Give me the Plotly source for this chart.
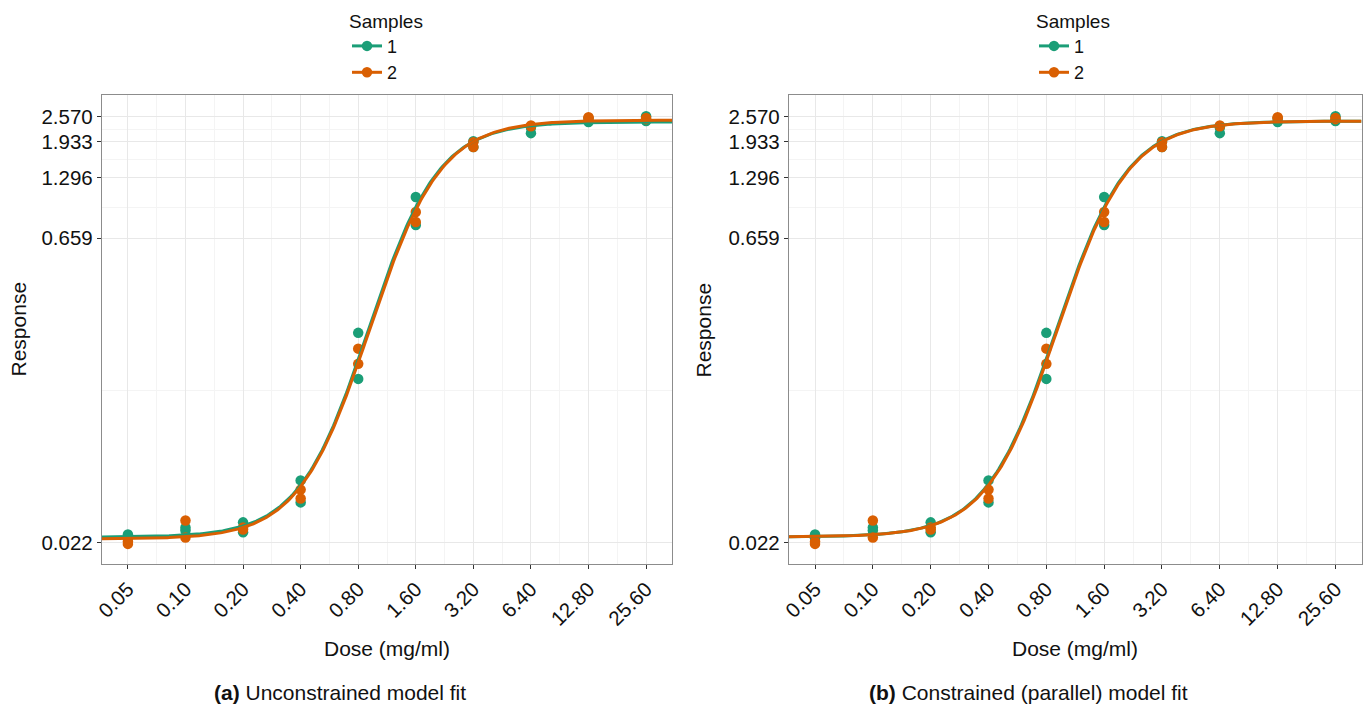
import numpy as np
import plotly.graph_objects as go

# ---------------- data ----------------
doses = [0.05, 0.1, 0.2, 0.4, 0.8, 1.6, 3.2, 6.4, 12.8, 25.6]
dose_labels = ["0.05", "0.10", "0.20", "0.40", "0.80", "1.60", "3.20", "6.40", "12.80", "25.60"]

s1_rep1 = [0.0241, 0.0261, 0.0276, 0.0441, 0.229, 1.044, 1.947, 2.13, 2.41, 2.570]
s1_rep2 = [0.0231, 0.0252, 0.0247, 0.0345, 0.137, 0.764, 1.822, 2.27, 2.50, 2.436]
s2_rep1 = [0.0223, 0.0282, 0.0261, 0.0398, 0.192, 0.883, 1.926, 2.30, 2.546, 2.52]
s2_rep2 = [0.0217, 0.0233, 0.0255, 0.0360, 0.162, 0.790, 1.822, 2.32, 2.52, 2.49]

y_ticks = [0.022, 0.659, 1.296, 1.933, 2.570]
y_minor = [0.1204, 0.924, 1.583, 2.229]

# fitted log-logistic parameters (bottom, top, slope, ec50), fitted on log response
fit_a = {"1": (0.0234, 2.415, 2.38, 0.905), "2": (0.0229, 2.462, 2.34, 0.917)}
fit_b = {"1": (0.02347, 2.436, 2.36, 0.905), "2": (0.02347, 2.436, 2.36, 0.915)}

colors = {"1": "#1B9E77", "2": "#D95F02"}
samples = {"1": (s1_rep1, s1_rep2), "2": (s2_rep1, s2_rep2)}

W, H = 1365, 710
FONT = "Liberation Sans, Arial, Helvetica, sans-serif"

# panel geometry (pixels)
pan_a = (102, 672)
pan_b = (789, 1361.5)
pan_top, pan_bot = 95, 564

# axis ranges with 5% expansion (ggplot style) in log space
lx0, lx1 = np.log10(min(doses)), np.log10(max(doses))
ex = 0.05 * (lx1 - lx0)
xrange_ = [lx0 - ex, lx1 + ex]
ly0, ly1 = np.log10(min(y_ticks)), np.log10(max(y_ticks))
ey = 0.05 * (ly1 - ly0)
yrange_ = [ly0 - ey, ly1 + ey]

x_minor = [np.sqrt(doses[i] * doses[i + 1]) for i in range(len(doses) - 1)]

xc = np.logspace(xrange_[0], xrange_[1], 400)


def curve(p, x):
    b, t, s, e = p
    return np.exp(np.log(b) + (np.log(t) - np.log(b)) / (1 + (e / x) ** s))


fig = go.Figure()

for idx, (fits, leg) in enumerate([(fit_a, "legend"), (fit_b, "legend2")]):
    xa = "x" if idx == 0 else "x2"
    ya = "y" if idx == 0 else "y2"
    for k in ["1", "2"]:
        r1, r2 = samples[k]
        fig.add_trace(go.Scatter(
            x=doses + doses, y=r1 + r2, mode="markers", xaxis=xa, yaxis=ya,
            marker=dict(color=colors[k], size=10.5, line=dict(width=0)),
            showlegend=False, hoverinfo="skip"))
    for k in ["1", "2"]:
        fig.add_trace(go.Scatter(
            x=xc, y=curve(fits[k], xc), mode="lines", xaxis=xa, yaxis=ya,
            line=dict(color=colors[k], width=3), showlegend=False, hoverinfo="skip"))
    for k in ["1", "2"]:
        fig.add_trace(go.Scatter(
            x=[None], y=[None], mode="lines+markers", xaxis=xa, yaxis=ya,
            name=k, legend=leg,
            line=dict(color=colors[k], width=3),
            marker=dict(color=colors[k], size=10.5)))

axis_common = dict(
    type="log", showline=True, mirror=True, linecolor="#8c8c8c", linewidth=1.3,
    ticks="outside", ticklen=4, tickwidth=1, tickcolor="#333333",
    showgrid=True, gridcolor="#e8e8e8", gridwidth=1, zeroline=False,
    tickfont=dict(family=FONT, size=20.5, color="#111111"),
)

xaxis_common = dict(axis_common, range=xrange_, tickmode="array", tickvals=doses,
                    ticktext=dose_labels, tickangle=-45,
                    minor=dict(tickmode="array", tickvals=x_minor, showgrid=True,
                               gridcolor="#f4f4f4", gridwidth=1, ticks=""))
yaxis_common = dict(axis_common, range=yrange_, tickmode="array", tickvals=y_ticks,
                    ticktext=[f"{v:.3f}" for v in y_ticks],
                    minor=dict(tickmode="array", tickvals=y_minor, showgrid=True,
                               gridcolor="#f4f4f4", gridwidth=1, ticks=""))

ydom = [1 - pan_bot / H, 1 - pan_top / H]

fig.update_layout(
    width=W, height=H, margin=dict(l=0, r=0, t=0, b=0, autoexpand=False),
    paper_bgcolor="white", plot_bgcolor="white",
    font=dict(family=FONT, color="#111111"),
    xaxis=dict(xaxis_common, domain=[pan_a[0] / W, pan_a[1] / W], anchor="y"),
    yaxis=dict(yaxis_common, domain=ydom, anchor="x"),
    xaxis2=dict(xaxis_common, domain=[pan_b[0] / W, pan_b[1] / W], anchor="y2"),
    yaxis2=dict(yaxis_common, domain=ydom, anchor="x2"),
)

legend_common = dict(
    xanchor="left", yanchor="top", y=1 - 3 / H,
    bgcolor="rgba(0,0,0,0)", borderwidth=0,
    font=dict(family=FONT, size=18, color="#111111"),
    title=dict(text="Samples", side="top", font=dict(family=FONT, size=19, color="#111111")),
    tracegroupgap=0, itemwidth=30, traceorder="normal",
)
fig.update_layout(
    legend=dict(legend_common, x=347 / W),
    legend2=dict(legend_common, x=1034 / W),
)

ann = []
for cx, cap_x, cap in [((pan_a[0] + pan_a[1]) / 2, 340, "<b>(a)</b> Unconstrained model fit"),
                       ((pan_b[0] + pan_b[1]) / 2, 1028, "<b>(b)</b> Constrained (parallel) model fit")]:
    ann.append(dict(text="Dose (mg/ml)", x=cx / W, y=1 - 648 / H, xref="paper", yref="paper",
                    xanchor="center", yanchor="middle", showarrow=False,
                    font=dict(family=FONT, size=21, color="#111111")))
    ann.append(dict(text=cap, x=cap_x / W, y=1 - 692 / H, xref="paper", yref="paper",
                    xanchor="center", yanchor="middle", showarrow=False,
                    font=dict(family=FONT, size=21, color="#111111")))
for rx in [18, 703]:
    ann.append(dict(text="Response", x=rx / W, y=1 - (pan_top + pan_bot) / 2 / H,
                    xref="paper", yref="paper", xanchor="center", yanchor="middle",
                    textangle=-90, showarrow=False,
                    font=dict(family=FONT, size=21, color="#111111")))
fig.update_layout(annotations=ann)

fig.write_html("out.html", config={"displayModeBar": False},
               post_script="document.body.style.margin='0';")
